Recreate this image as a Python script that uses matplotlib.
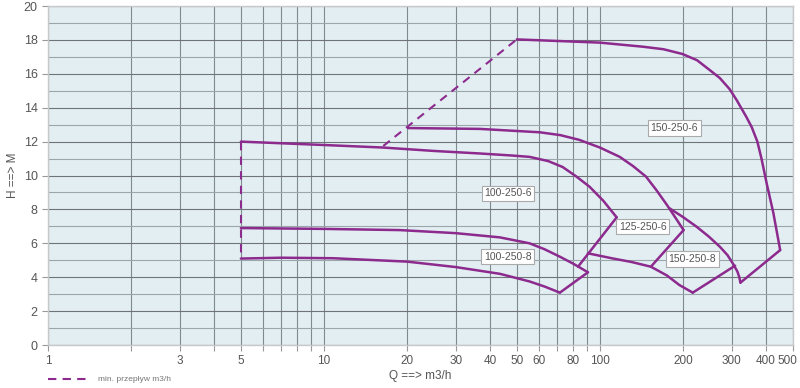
import matplotlib
matplotlib.use("Agg")
import matplotlib.pyplot as plt
import matplotlib.transforms as mtransforms
from matplotlib.ticker import FixedLocator, NullFormatter, MultipleLocator

plt.rcParams['font.family'] = ['Liberation Sans', 'DejaVu Sans']

# pump curves: (Q m3/h, H m)
q_100_250_6 = [5, 10, 16.4, 25, 36.7, 48, 55.6, 65, 73.3, 82, 91.7, 103, 115]
h_100_250_6 = [12.0, 11.8, 11.65, 11.45, 11.3, 11.18, 11.1, 10.85, 10.5, 9.95, 9.34, 8.5, 7.53]
q_100_250_6_max = [115, 83.3]
h_100_250_6_max = [7.53, 4.62]

q_100_250_8_top = [5, 10, 18.8, 30, 43.4, 55.6, 63, 71.6, 80, 90.5]
h_100_250_8_top = [6.9, 6.85, 6.78, 6.6, 6.35, 6.0, 5.65, 5.21, 4.8, 4.29]
q_100_250_8_bot = [5, 7, 10.8, 20, 30, 43.4, 55.6, 63, 71.6]
h_100_250_8_bot = [5.1, 5.15, 5.12, 4.92, 4.6, 4.2, 3.75, 3.45, 3.09]
q_100_250_8_max = [71.6, 90.5]
h_100_250_8_max = [3.09, 4.29]

q_125_250_6_top = [20.2, 36.7, 60.6, 72, 84.3, 100, 118, 132, 147, 160, 175, 188, 201]
h_125_250_6_top = [12.8, 12.75, 12.55, 12.38, 12.1, 11.65, 11.1, 10.55, 9.93, 9.15, 8.26, 7.5, 6.78]
q_125_250_6_max = [201, 153]
h_125_250_6_max = [6.78, 4.62]
q_125_250_6_bot = [90.5, 111, 130, 153, 175, 194, 217]
h_125_250_6_bot = [5.41, 5.11, 4.9, 4.62, 4.1, 3.54, 3.09]
q_125_250_6_end = [217, 309]
h_125_250_6_end = [3.09, 4.68]

q_150_250_8 = [179, 200, 224, 248, 272, 290, 303, 315, 320, 323]
h_150_250_8 = [8.06, 7.55, 6.98, 6.4, 5.8, 5.3, 4.82, 4.33, 4.0, 3.68]

q_150_250_6 = [50, 100, 143, 170, 199, 225, 251, 272, 295, 313, 339, 355, 372, 385, 402, 425, 450]
h_150_250_6 = [18.03, 17.84, 17.6, 17.45, 17.17, 16.8, 16.2, 15.75, 15.1, 14.45, 13.47, 12.85,
               12.0, 11.0, 9.54, 7.8, 5.6]
q_150_250_6_max = [450, 323]
h_150_250_6_max = [5.6, 3.68]

# minimum flow lines (dashed)
q_min_a = [5, 5]
h_min_a = [12.0, 5.1]
q_min_b = [16.4, 50]
h_min_b = [11.74, 18.03]

labels = ["150-250-6", "100-250-6", "125-250-6", "100-250-8", "150-250-8"]
label_q = [186, 46.4, 143, 46.4, 216]
label_h = [12.8, 8.95, 6.98, 5.21, 5.07]

x_ticks = [1, 3, 5, 10, 20, 30, 40, 50, 60, 80, 100, 200, 300, 400, 500]
x_grid = [2, 3, 4, 5, 6, 7, 8, 9, 10, 20, 30, 40, 50, 60, 70, 80, 90, 100, 200, 300, 400]

PURPLE = "#8c2a8e"
BG = "#e3eef2"
TXT = "#555555"

fig = plt.figure(figsize=(8, 3.88), dpi=100)
ax = fig.add_axes([0.06, 0.1108, 0.931, 0.8737])
ax.set_facecolor(BG)
ax.set_xscale("log")
ax.set_xlim(1, 500)
ax.set_ylim(0, 20)

ax.xaxis.set_major_locator(FixedLocator(x_ticks))
ax.set_xticklabels([str(t) for t in x_ticks])
ax.xaxis.set_minor_locator(FixedLocator(x_grid))
ax.xaxis.set_minor_formatter(NullFormatter())
ax.yaxis.set_major_locator(MultipleLocator(2))
ax.yaxis.set_minor_locator(MultipleLocator(1))

ax.grid(True, which="both", axis="x", color="#7d8a8e", lw=0.8)
ax.grid(True, which="major", axis="y", color="#6e7478", lw=0.8)
ax.grid(True, which="minor", axis="y", color="#9aa6aa", lw=0.8)
ax.set_axisbelow(True)

ax.tick_params(which="both", colors="#999999", labelcolor=TXT, labelsize=9, length=4, width=0.8)
ax.tick_params(axis="x", labelsize=8.5)
ax.tick_params(axis="x", which="minor", length=4)
ax.tick_params(axis="y", which="minor", length=0)
for side in ax.spines:
    ax.spines[side].set_color("#c8c8c8")
    ax.spines[side].set_linewidth(1.0)

# nudge the last x label left so it stays inside the figure
shift = mtransforms.ScaledTranslation(-5 / 100, 0, fig.dpi_scale_trans)
last = ax.get_xticklabels()[-1]
last.set_transform(last.get_transform() + shift)

solid = [
    (q_100_250_6, h_100_250_6), (q_100_250_6_max, h_100_250_6_max),
    (q_100_250_8_top, h_100_250_8_top), (q_100_250_8_bot, h_100_250_8_bot),
    (q_100_250_8_max, h_100_250_8_max),
    (q_125_250_6_top, h_125_250_6_top), (q_125_250_6_max, h_125_250_6_max),
    (q_125_250_6_bot, h_125_250_6_bot), (q_125_250_6_end, h_125_250_6_end),
    (q_150_250_8, h_150_250_8),
    (q_150_250_6, h_150_250_6), (q_150_250_6_max, h_150_250_6_max),
]
for q, h in solid:
    ax.plot(q, h, color=PURPLE, lw=1.8, solid_capstyle="round", solid_joinstyle="round")

for q, h in [(q_min_a, h_min_a), (q_min_b, h_min_b)]:
    ax.plot(q, h, color=PURPLE, lw=1.5, ls=(0, (4, 3)))

for txt, q, h in zip(labels, label_q, label_h):
    ax.text(q, h, txt, ha="center", va="center", fontsize=7.5, color=TXT,
            bbox=dict(boxstyle="square,pad=0.25", fc="white", ec="#aaaaaa", lw=0.8))

ax.set_xlabel("Q ==> m3/h", fontsize=8.5, color=TXT, labelpad=2)
ax.set_ylabel("H ==> M", fontsize=8.5, color=TXT, labelpad=3)

# legend for the dashed line
fig.lines.append(plt.Line2D([0.06, 0.11], [0.023, 0.023], transform=fig.transFigure,
                            color=PURPLE, lw=1.5, ls=(0, (4, 3))))
fig.text(0.122, 0.023, "min. przepływ m3/h", fontsize=6, color="#777777", va="center")

fig.savefig("out.png", dpi=100)
